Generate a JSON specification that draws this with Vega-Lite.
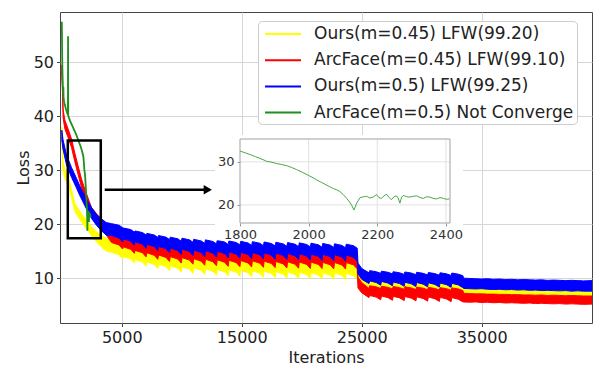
{
  "$schema": "https://vega.github.io/schema/vega-lite/v6.json",
  "width": 532,
  "height": 311,
  "autosize": {"type": "none"},
  "padding": {"left": 60, "top": 12, "right": 16, "bottom": 56},
  "background": "white",
  "config": {
    "font": "DejaVu Sans",
    "view": {"stroke": "#444", "strokeWidth": 1},
    "axis": {"labelColor": "#222", "titleColor": "#222", "tickColor": "#444", "labelFont": "DejaVu Sans", "titleFont": "DejaVu Sans", "labelFlush": false, "titleFontWeight": "normal"}
  },
  "datasets": {
    "yel": [
      {"it":0,"lo":36.0,"hi":38.0},{"it":100,"lo":30.0,"hi":31.5},{"it":300,"lo":28.3,"hi":29.8},{"it":667,"lo":26.2,"hi":27.7},{"it":1083,"lo":22.4,"hi":23.9},{"it":1400,"lo":21.2,"hi":22.7},{"it":1775,"lo":20.0,"hi":21.5},{"it":2200,"lo":18.7,"hi":20.3},{"it":2608,"lo":17.5,"hi":19.2},{"it":3200,"lo":16.0,"hi":18.0},{"it":3725,"lo":15.0,"hi":17.3},
      {"it":4152,"lo":14.8,"hi":17.1},{"it":4772,"lo":14.35,"hi":16.8},{"it":5070,"lo":13.6,"hi":16.35},
      {"it":5130,"lo":14.0,"hi":16.3},{"it":5750,"lo":13.55,"hi":16.0},{"it":6048,"lo":12.8,"hi":15.55},
      {"it":6108,"lo":13.45,"hi":15.75},{"it":6728,"lo":13.0,"hi":15.45},{"it":7026,"lo":12.25,"hi":15.0},
      {"it":7086,"lo":13.0,"hi":15.3},{"it":7706,"lo":12.55,"hi":15.0},{"it":8004,"lo":11.8,"hi":14.55},
      {"it":8064,"lo":12.6,"hi":14.9},{"it":8684,"lo":12.15,"hi":14.6},{"it":8982,"lo":11.4,"hi":14.15},
      {"it":9042,"lo":12.3,"hi":14.6},{"it":9662,"lo":11.85,"hi":14.3},{"it":9960,"lo":11.1,"hi":13.85},
      {"it":10020,"lo":12.1,"hi":14.4},{"it":10640,"lo":11.65,"hi":14.1},{"it":10938,"lo":10.9,"hi":13.65},
      {"it":10998,"lo":11.9,"hi":14.2},{"it":11618,"lo":11.45,"hi":13.9},{"it":11916,"lo":10.7,"hi":13.45},
      {"it":11976,"lo":11.75,"hi":14.05},{"it":12596,"lo":11.3,"hi":13.75},{"it":12894,"lo":10.55,"hi":13.3},
      {"it":12954,"lo":11.63,"hi":13.93},{"it":13574,"lo":11.18,"hi":13.63},{"it":13872,"lo":10.43,"hi":13.18},
      {"it":13932,"lo":11.54,"hi":13.84},{"it":14552,"lo":11.09,"hi":13.54},{"it":14850,"lo":10.34,"hi":13.09},
      {"it":14910,"lo":11.47,"hi":13.77},{"it":15530,"lo":11.02,"hi":13.47},{"it":15828,"lo":10.27,"hi":13.02},
      {"it":15888,"lo":11.38,"hi":13.68},{"it":16508,"lo":10.93,"hi":13.38},{"it":16806,"lo":10.18,"hi":12.93},
      {"it":16866,"lo":11.32,"hi":13.62},{"it":17486,"lo":10.87,"hi":13.32},{"it":17784,"lo":10.12,"hi":12.87},
      {"it":17844,"lo":11.2,"hi":13.5},{"it":18464,"lo":10.75,"hi":13.2},{"it":18762,"lo":10.0,"hi":12.75},
      {"it":18822,"lo":11.15,"hi":13.45},{"it":19442,"lo":10.7,"hi":13.15},{"it":19740,"lo":9.95,"hi":12.7},
      {"it":19800,"lo":11.1,"hi":13.4},{"it":20420,"lo":10.65,"hi":13.1},{"it":20718,"lo":9.9,"hi":12.65},
      {"it":20778,"lo":11.04,"hi":13.34},{"it":21398,"lo":10.59,"hi":13.04},{"it":21696,"lo":9.84,"hi":12.59},
      {"it":21756,"lo":11.0,"hi":13.3},{"it":22376,"lo":10.55,"hi":13.0},{"it":22674,"lo":9.8,"hi":12.55},
      {"it":22734,"lo":10.98,"hi":13.28},{"it":23354,"lo":10.53,"hi":12.98},{"it":23652,"lo":9.78,"hi":12.53},
      {"it":23712,"lo":10.9,"hi":13.2},{"it":24332,"lo":10.45,"hi":12.9},{"it":24630,"lo":9.7,"hi":12.45},
      {"it":24690,"lo":9.2,"hi":11.5},{"it":25000,"lo":8.4,"hi":10.6},{"it":25608,"lo":7.7,"hi":9.9},
      {"it":25668,"lo":7.9,"hi":10.1},{"it":26208,"lo":7.6,"hi":9.9},{"it":26586,"lo":7.1,"hi":9.6},
      {"it":26646,"lo":7.8,"hi":10.0},{"it":27186,"lo":7.5,"hi":9.8},{"it":27564,"lo":7.0,"hi":9.5},
      {"it":27624,"lo":7.75,"hi":9.95},{"it":28164,"lo":7.45,"hi":9.75},{"it":28542,"lo":6.95,"hi":9.45},
      {"it":28602,"lo":7.7,"hi":9.9},{"it":29142,"lo":7.4,"hi":9.7},{"it":29520,"lo":6.9,"hi":9.4},
      {"it":29580,"lo":7.65,"hi":9.85},{"it":30120,"lo":7.35,"hi":9.65},{"it":30498,"lo":6.85,"hi":9.35},
      {"it":30558,"lo":7.6,"hi":9.8},{"it":31098,"lo":7.3,"hi":9.6},{"it":31476,"lo":6.8,"hi":9.3},
      {"it":31536,"lo":7.55,"hi":9.75},{"it":32076,"lo":7.25,"hi":9.55},{"it":32454,"lo":6.75,"hi":9.25},
      {"it":32514,"lo":7.5,"hi":9.7},{"it":33054,"lo":7.2,"hi":9.5},{"it":33440,"lo":6.7,"hi":9.2},
      {"it":33500,"lo":6.6,"hi":8.6},{"it":34000,"lo":6.55,"hi":8.55},{"it":34500,"lo":6.5,"hi":8.5},{"it":35000,"lo":6.5,"hi":8.55},{"it":35500,"lo":6.45,"hi":8.45},{"it":36000,"lo":6.45,"hi":8.4},{"it":36500,"lo":6.4,"hi":8.45},{"it":37000,"lo":6.4,"hi":8.35},{"it":37500,"lo":6.35,"hi":8.4},{"it":38000,"lo":6.35,"hi":8.3},{"it":38500,"lo":6.3,"hi":8.35},{"it":39000,"lo":6.3,"hi":8.25},{"it":39500,"lo":6.25,"hi":8.3},{"it":40000,"lo":6.3,"hi":8.2},{"it":40500,"lo":6.2,"hi":8.25},{"it":41000,"lo":6.25,"hi":8.2},{"it":41500,"lo":6.2,"hi":8.15},{"it":42000,"lo":6.15,"hi":8.2},{"it":42500,"lo":6.2,"hi":8.1},{"it":43000,"lo":6.1,"hi":8.15},{"it":43500,"lo":6.1,"hi":8.1},{"it":44200,"lo":6.1,"hi":8.1}
    ],
    "red": [
      {"it":0,"lo":47.5,"hi":49.5},{"it":60,"lo":44.2,"hi":45.8},{"it":108,"lo":39.7,"hi":41.3},{"it":250,"lo":37.7,"hi":39.3},{"it":500,"lo":36.2,"hi":37.8},{"it":808,"lo":34.2,"hi":35.8},{"it":1083,"lo":31.6,"hi":33.2},{"it":1360,"lo":29.2,"hi":30.8},{"it":1640,"lo":26.8,"hi":28.4},{"it":1917,"lo":24.9,"hi":26.5},{"it":2475,"lo":21.3,"hi":23.1},{"it":3167,"lo":19.2,"hi":21.2},{"it":3700,"lo":18.0,"hi":20.2},
      {"it":4152,"lo":16.6,"hi":18.7},{"it":4772,"lo":16.15,"hi":18.4},{"it":5070,"lo":15.4,"hi":17.95},
      {"it":5130,"lo":15.8,"hi":17.9},{"it":5750,"lo":15.35,"hi":17.6},{"it":6048,"lo":14.6,"hi":17.15},
      {"it":6108,"lo":15.15,"hi":17.25},{"it":6728,"lo":14.7,"hi":16.95},{"it":7026,"lo":13.95,"hi":16.5},
      {"it":7086,"lo":14.7,"hi":16.8},{"it":7706,"lo":14.25,"hi":16.5},{"it":8004,"lo":13.5,"hi":16.05},
      {"it":8064,"lo":14.3,"hi":16.4},{"it":8684,"lo":13.85,"hi":16.1},{"it":8982,"lo":13.1,"hi":15.65},
      {"it":9042,"lo":14.0,"hi":16.1},{"it":9662,"lo":13.55,"hi":15.8},{"it":9960,"lo":12.8,"hi":15.35},
      {"it":10020,"lo":13.8,"hi":15.9},{"it":10640,"lo":13.35,"hi":15.6},{"it":10938,"lo":12.6,"hi":15.15},
      {"it":10998,"lo":13.6,"hi":15.7},{"it":11618,"lo":13.15,"hi":15.4},{"it":11916,"lo":12.4,"hi":14.95},
      {"it":11976,"lo":13.5,"hi":15.6},{"it":12596,"lo":13.05,"hi":15.3},{"it":12894,"lo":12.3,"hi":14.85},
      {"it":12954,"lo":13.4,"hi":15.5},{"it":13574,"lo":12.95,"hi":15.2},{"it":13872,"lo":12.2,"hi":14.75},
      {"it":13932,"lo":13.33,"hi":15.43},{"it":14552,"lo":12.88,"hi":15.13},{"it":14850,"lo":12.13,"hi":14.68},
      {"it":14910,"lo":13.27,"hi":15.37},{"it":15530,"lo":12.82,"hi":15.07},{"it":15828,"lo":12.07,"hi":14.62},
      {"it":15888,"lo":13.22,"hi":15.32},{"it":16508,"lo":12.77,"hi":15.02},{"it":16806,"lo":12.02,"hi":14.57},
      {"it":16866,"lo":13.16,"hi":15.26},{"it":17486,"lo":12.71,"hi":14.96},{"it":17784,"lo":11.96,"hi":14.51},
      {"it":17844,"lo":13.1,"hi":15.2},{"it":18464,"lo":12.65,"hi":14.9},{"it":18762,"lo":11.9,"hi":14.45},
      {"it":18822,"lo":13.05,"hi":15.15},{"it":19442,"lo":12.6,"hi":14.85},{"it":19740,"lo":11.85,"hi":14.4},
      {"it":19800,"lo":13.0,"hi":15.1},{"it":20420,"lo":12.55,"hi":14.8},{"it":20718,"lo":11.8,"hi":14.35},
      {"it":20778,"lo":12.98,"hi":15.08},{"it":21398,"lo":12.53,"hi":14.78},{"it":21696,"lo":11.78,"hi":14.33},
      {"it":21756,"lo":12.93,"hi":15.03},{"it":22376,"lo":12.48,"hi":14.73},{"it":22674,"lo":11.73,"hi":14.28},
      {"it":22734,"lo":12.9,"hi":15.0},{"it":23354,"lo":12.45,"hi":14.7},{"it":23652,"lo":11.7,"hi":14.25},
      {"it":23712,"lo":12.9,"hi":15.0},{"it":24332,"lo":12.45,"hi":14.7},{"it":24630,"lo":11.7,"hi":14.25},
      {"it":24690,"lo":8.2,"hi":10.2},{"it":25000,"lo":7.3,"hi":9.2},{"it":25608,"lo":6.4,"hi":8.1},
      {"it":25668,"lo":6.8,"hi":8.6},{"it":26208,"lo":6.5,"hi":8.4},{"it":26586,"lo":6.0,"hi":8.1},
      {"it":26646,"lo":6.7,"hi":8.5},{"it":27186,"lo":6.4,"hi":8.3},{"it":27564,"lo":5.9,"hi":8.0},
      {"it":27624,"lo":6.65,"hi":8.45},{"it":28164,"lo":6.35,"hi":8.25},{"it":28542,"lo":5.85,"hi":7.95},
      {"it":28602,"lo":6.6,"hi":8.4},{"it":29142,"lo":6.3,"hi":8.2},{"it":29520,"lo":5.8,"hi":7.9},
      {"it":29580,"lo":6.55,"hi":8.35},{"it":30120,"lo":6.25,"hi":8.15},{"it":30498,"lo":5.75,"hi":7.85},
      {"it":30558,"lo":6.5,"hi":8.3},{"it":31098,"lo":6.2,"hi":8.1},{"it":31476,"lo":5.7,"hi":7.8},
      {"it":31536,"lo":6.45,"hi":8.25},{"it":32076,"lo":6.15,"hi":8.05},{"it":32454,"lo":5.65,"hi":7.75},
      {"it":32514,"lo":6.4,"hi":8.2},{"it":33054,"lo":6.1,"hi":8.0},{"it":33440,"lo":5.6,"hi":7.7},
      {"it":33500,"lo":5.6,"hi":7.2},{"it":34000,"lo":5.55,"hi":7.15},{"it":34500,"lo":5.6,"hi":7.1},{"it":35000,"lo":5.5,"hi":7.1},{"it":35500,"lo":5.55,"hi":7.05},{"it":36000,"lo":5.45,"hi":7.05},{"it":36500,"lo":5.5,"hi":7.0},{"it":37000,"lo":5.4,"hi":7.0},{"it":37500,"lo":5.45,"hi":6.95},{"it":38000,"lo":5.4,"hi":6.95},{"it":38500,"lo":5.35,"hi":6.9},{"it":39000,"lo":5.4,"hi":6.9},{"it":39500,"lo":5.3,"hi":6.85},{"it":40000,"lo":5.35,"hi":6.9},{"it":40500,"lo":5.3,"hi":6.8},{"it":41000,"lo":5.25,"hi":6.85},{"it":41500,"lo":5.3,"hi":6.8},{"it":42000,"lo":5.2,"hi":6.75},{"it":42500,"lo":5.25,"hi":6.8},{"it":43000,"lo":5.2,"hi":6.75},{"it":43500,"lo":5.15,"hi":6.7},{"it":44200,"lo":5.2,"hi":6.7}
    ],
    "blu": [
      {"it":0,"lo":35.6,"hi":37.4},{"it":100,"lo":33.9,"hi":35.7},{"it":392,"lo":31.0,"hi":32.8},{"it":808,"lo":28.7,"hi":30.5},{"it":1225,"lo":26.7,"hi":28.5},{"it":1500,"lo":25.3,"hi":27.1},{"it":1775,"lo":24.1,"hi":25.9},{"it":2058,"lo":22.8,"hi":24.6},{"it":2500,"lo":21.0,"hi":23.0},{"it":2892,"lo":19.8,"hi":21.8},{"it":3300,"lo":18.8,"hi":21.0},{"it":3700,"lo":18.0,"hi":20.3},
      {"it":4152,"lo":17.9,"hi":20.1},{"it":4772,"lo":17.45,"hi":19.8},{"it":5070,"lo":16.7,"hi":19.35},
      {"it":5130,"lo":17.3,"hi":19.3},{"it":5750,"lo":16.85,"hi":19.0},{"it":6048,"lo":16.1,"hi":18.55},
      {"it":6108,"lo":16.75,"hi":18.75},{"it":6728,"lo":16.3,"hi":18.45},{"it":7026,"lo":15.55,"hi":18.0},
      {"it":7086,"lo":16.3,"hi":18.3},{"it":7706,"lo":15.85,"hi":18.0},{"it":8004,"lo":15.1,"hi":17.55},
      {"it":8064,"lo":15.9,"hi":17.9},{"it":8684,"lo":15.45,"hi":17.6},{"it":8982,"lo":14.7,"hi":17.15},
      {"it":9042,"lo":15.6,"hi":17.6},{"it":9662,"lo":15.15,"hi":17.3},{"it":9960,"lo":14.4,"hi":16.85},
      {"it":10020,"lo":15.4,"hi":17.4},{"it":10640,"lo":14.95,"hi":17.1},{"it":10938,"lo":14.2,"hi":16.65},
      {"it":10998,"lo":15.2,"hi":17.2},{"it":11618,"lo":14.75,"hi":16.9},{"it":11916,"lo":14.0,"hi":16.45},
      {"it":11976,"lo":15.1,"hi":17.1},{"it":12596,"lo":14.65,"hi":16.8},{"it":12894,"lo":13.9,"hi":16.35},
      {"it":12954,"lo":15.0,"hi":17.0},{"it":13574,"lo":14.55,"hi":16.7},{"it":13872,"lo":13.8,"hi":16.25},
      {"it":13932,"lo":14.9,"hi":16.9},{"it":14552,"lo":14.45,"hi":16.6},{"it":14850,"lo":13.7,"hi":16.15},
      {"it":14910,"lo":14.82,"hi":16.82},{"it":15530,"lo":14.37,"hi":16.52},{"it":15828,"lo":13.62,"hi":16.07},
      {"it":15888,"lo":14.77,"hi":16.77},{"it":16508,"lo":14.32,"hi":16.47},{"it":16806,"lo":13.57,"hi":16.02},
      {"it":16866,"lo":14.71,"hi":16.71},{"it":17486,"lo":14.26,"hi":16.41},{"it":17784,"lo":13.51,"hi":15.96},
      {"it":17844,"lo":14.65,"hi":16.65},{"it":18464,"lo":14.2,"hi":16.35},{"it":18762,"lo":13.45,"hi":15.9},
      {"it":18822,"lo":14.6,"hi":16.6},{"it":19442,"lo":14.15,"hi":16.3},{"it":19740,"lo":13.4,"hi":15.85},
      {"it":19800,"lo":14.54,"hi":16.54},{"it":20420,"lo":14.09,"hi":16.24},{"it":20718,"lo":13.34,"hi":15.79},
      {"it":20778,"lo":14.48,"hi":16.48},{"it":21398,"lo":14.03,"hi":16.18},{"it":21696,"lo":13.28,"hi":15.73},
      {"it":21756,"lo":14.43,"hi":16.43},{"it":22376,"lo":13.98,"hi":16.13},{"it":22674,"lo":13.23,"hi":15.68},
      {"it":22734,"lo":14.37,"hi":16.37},{"it":23354,"lo":13.92,"hi":16.07},{"it":23652,"lo":13.17,"hi":15.62},
      {"it":23712,"lo":14.3,"hi":16.3},{"it":24332,"lo":13.85,"hi":16.0},{"it":24630,"lo":13.1,"hi":15.55},
      {"it":24690,"lo":10.8,"hi":12.8},{"it":25000,"lo":9.8,"hi":11.8},{"it":25608,"lo":9.0,"hi":11.0},
      {"it":25668,"lo":9.5,"hi":11.4},{"it":26208,"lo":9.2,"hi":11.2},{"it":26586,"lo":8.7,"hi":10.9},
      {"it":26646,"lo":9.4,"hi":11.3},{"it":27186,"lo":9.1,"hi":11.1},{"it":27564,"lo":8.6,"hi":10.8},
      {"it":27624,"lo":9.3,"hi":11.2},{"it":28164,"lo":9.0,"hi":11.0},{"it":28542,"lo":8.5,"hi":10.7},
      {"it":28602,"lo":9.25,"hi":11.15},{"it":29142,"lo":8.95,"hi":10.95},{"it":29520,"lo":8.45,"hi":10.65},
      {"it":29580,"lo":9.2,"hi":11.1},{"it":30120,"lo":8.9,"hi":10.9},{"it":30498,"lo":8.4,"hi":10.6},
      {"it":30558,"lo":9.15,"hi":11.05},{"it":31098,"lo":8.85,"hi":10.85},{"it":31476,"lo":8.35,"hi":10.55},
      {"it":31536,"lo":9.1,"hi":11.0},{"it":32076,"lo":8.8,"hi":10.8},{"it":32454,"lo":8.3,"hi":10.5},
      {"it":32514,"lo":9.05,"hi":10.95},{"it":33054,"lo":8.75,"hi":10.75},{"it":33440,"lo":8.25,"hi":10.45},
      {"it":33500,"lo":8.1,"hi":10.0},{"it":34000,"lo":8.05,"hi":9.95},{"it":34500,"lo":8.0,"hi":9.9},{"it":35000,"lo":8.05,"hi":9.85},{"it":35500,"lo":7.95,"hi":9.9},{"it":36000,"lo":7.9,"hi":9.8},{"it":36500,"lo":7.95,"hi":9.85},{"it":37000,"lo":7.85,"hi":9.75},{"it":37500,"lo":7.9,"hi":9.8},{"it":38000,"lo":7.8,"hi":9.7},{"it":38500,"lo":7.85,"hi":9.75},{"it":39000,"lo":7.75,"hi":9.7},{"it":39500,"lo":7.8,"hi":9.65},{"it":40000,"lo":7.7,"hi":9.7},{"it":40500,"lo":7.75,"hi":9.6},{"it":41000,"lo":7.7,"hi":9.65},{"it":41500,"lo":7.65,"hi":9.6},{"it":42000,"lo":7.7,"hi":9.55},{"it":42500,"lo":7.6,"hi":9.6},{"it":43000,"lo":7.65,"hi":9.55},{"it":43500,"lo":7.6,"hi":9.5},{"it":44200,"lo":7.6,"hi":9.55}
    ],
    "grn": [
      {"it":0,"v":57.5},{"it":20,"v":53.5},{"it":40,"v":50.0},{"it":60,"v":47.8},{"it":80,"v":46.2},{"it":100,"v":44.8},{"it":115,"v":44.2},{"it":130,"v":45.4},{"it":145,"v":43.6},{"it":180,"v":42.8},{"it":240,"v":42.2},{"it":300,"v":41.7},{"it":360,"v":41.2},{"it":420,"v":40.8},{"it":480,"v":40.4},{"it":510,"v":40.3},{"it":522,"v":54.8},{"it":534,"v":40.1},{"it":600,"v":39.7},{"it":700,"v":39.1},{"it":800,"v":38.6},{"it":900,"v":38.1},{"it":1000,"v":37.6},{"it":1100,"v":37.1},{"it":1200,"v":36.6},{"it":1300,"v":36.0},{"it":1400,"v":35.4},{"it":1500,"v":34.8},{"it":1600,"v":34.2},{"it":1700,"v":33.4},
      {"it":1800,"v":32.5},{"it":1815,"v":32.1},{"it":1829,"v":31.7},{"it":1845,"v":31.2},{"it":1858,"v":30.8},{"it":1870,"v":30.4},{"it":1878,"v":30.1},{"it":1893,"v":29.9},{"it":1907,"v":29.6},{"it":1920,"v":29.4},{"it":1936,"v":29.1},{"it":1950,"v":28.7},{"it":1965,"v":28.2},{"it":1984,"v":27.5},{"it":2003,"v":26.7},{"it":2013,"v":26.3},{"it":2023,"v":25.8},{"it":2038,"v":25.2},{"it":2052,"v":24.6},{"it":2062,"v":24.2},{"it":2072,"v":23.8},{"it":2082,"v":23.5},{"it":2091,"v":23.1},{"it":2101,"v":22.4},{"it":2111,"v":21.5},{"it":2118,"v":20.8},{"it":2125,"v":20.0},{"it":2132,"v":18.8},{"it":2140,"v":20.4},{"it":2150,"v":21.7},{"it":2160,"v":21.9},{"it":2169,"v":22.0},{"it":2178,"v":21.6},{"it":2188,"v":21.8},{"it":2198,"v":22.4},{"it":2205,"v":21.7},{"it":2212,"v":21.5},{"it":2220,"v":22.1},{"it":2227,"v":22.5},{"it":2234,"v":21.8},{"it":2241,"v":21.2},{"it":2249,"v":21.9},{"it":2256,"v":22.1},{"it":2261,"v":21.6},{"it":2266,"v":20.4},{"it":2271,"v":21.8},{"it":2276,"v":22.2},{"it":2286,"v":21.9},{"it":2295,"v":21.8},{"it":2305,"v":22.0},{"it":2315,"v":22.1},{"it":2325,"v":21.7},{"it":2334,"v":21.5},{"it":2344,"v":21.9},{"it":2354,"v":21.8},{"it":2363,"v":21.5},{"it":2373,"v":21.4},{"it":2383,"v":21.7},{"it":2393,"v":21.5},{"it":2402,"v":21.3},{"it":2410,"v":21.4}
    ]
  },
  "layer": [
    {
      "layer": [
        {
          "data": {"name": "yel"},
          "mark": {"type": "area", "stroke": "#ffff00", "strokeWidth": 1, "clip": true},
          "encoding": {
            "x": {"field": "it", "type": "quantitative", "scale": {"domain": [-150, 44200], "nice": false, "zero": false},
                  "axis": {"values": [5000, 15000, 25000, 35000], "format": "d", "grid": true, "gridColor": "#d6d6d6", "domain": false, "tickSize": 3.5, "labelFontSize": 16, "labelPadding": 3, "title": "Iterations", "titleFontSize": 16, "titlePadding": 4}},
            "y": {"field": "lo", "type": "quantitative", "scale": {"domain": [1.7, 59.3], "nice": false, "zero": false},
                  "axis": {"values": [10, 20, 30, 40, 50], "grid": true, "gridColor": "#d6d6d6", "domain": false, "tickSize": 3.5, "labelFontSize": 16, "labelPadding": 3, "title": "Loss", "titleFontSize": 16, "titlePadding": 2}},
            "y2": {"field": "hi"},
            "color": {"datum": "Ours(m=0.45) LFW(99.20)", "type": "nominal",
              "scale": {"domain": ["Ours(m=0.45) LFW(99.20)", "ArcFace(m=0.45) LFW(99.10)", "Ours(m=0.5) LFW(99.25)", "ArcFace(m=0.5) Not Converge"], "range": ["#ffff00", "#ff0000", "#0000ff", "#1f8f1f"]},
              "legend": {"orient": "none", "legendX": 198, "legendY": 9, "title": null, "labelFont": "DejaVu Sans", "labelFontSize": 17, "labelColor": "#222", "labelLimit": 400, "symbolType": "M-0.667,0L3.333,0", "symbolSize": 324, "symbolStrokeWidth": 2, "labelOffset": 33, "rowPadding": 8.2, "padding": 3, "fillColor": "white", "strokeColor": "#cccccc", "cornerRadius": 4,
                "encode": {"symbols": {"update": {"stroke": {"scale": "color", "field": "value"}, "strokeWidth": {"value": 2}}}}}}
          }
        },
        {
          "data": {"name": "red"},
          "mark": {"type": "area", "stroke": "#ff0000", "strokeWidth": 1, "clip": true},
          "encoding": {
            "x": {"field": "it", "type": "quantitative"},
            "y": {"field": "lo", "type": "quantitative"},
            "y2": {"field": "hi"},
            "color": {"datum": "ArcFace(m=0.45) LFW(99.10)", "type": "nominal"}
          }
        },
        {
          "data": {"name": "blu"},
          "mark": {"type": "area", "stroke": "#0000ff", "strokeWidth": 1, "clip": true},
          "encoding": {
            "x": {"field": "it", "type": "quantitative"},
            "y": {"field": "lo", "type": "quantitative"},
            "y2": {"field": "hi"},
            "color": {"datum": "Ours(m=0.5) LFW(99.25)", "type": "nominal"}
          }
        },
        {
          "data": {"name": "grn"},
          "mark": {"type": "line", "strokeWidth": 1.8, "clip": true},
          "encoding": {
            "x": {"field": "it", "type": "quantitative"},
            "y": {"field": "v", "type": "quantitative"},
            "color": {"datum": "ArcFace(m=0.5) Not Converge", "type": "nominal"}
          }
        },
        {
          "data": {"values": [{"x1": 500, "x2": 3250, "y1": 17.4, "y2": 35.5}]},
          "mark": {"type": "rect", "filled": false, "color": "black", "strokeWidth": 2.5},
          "encoding": {
            "x": {"field": "x1", "type": "quantitative"},
            "x2": {"field": "x2"},
            "y": {"field": "y1", "type": "quantitative"},
            "y2": {"field": "y2"}
          }
        },
        {
          "data": {"values": [{"x1": 3580, "x2": 12100, "y": 26.4}]},
          "mark": {"type": "rule", "color": "black", "strokeWidth": 2.5},
          "encoding": {
            "x": {"field": "x1", "type": "quantitative"},
            "x2": {"field": "x2"},
            "y": {"field": "y", "type": "quantitative"}
          }
        },
        {
          "data": {"values": [{"x": 12170, "y": 26.4}]},
          "mark": {"type": "point", "shape": "triangle-right", "filled": true, "color": "black", "size": 90, "opacity": 1},
          "encoding": {
            "x": {"field": "x", "type": "quantitative"},
            "y": {"field": "y", "type": "quantitative"}
          }
        }
      ]
    },
    {
      "layer": [
        {
          "data": {"values": [{"x1": 1727, "x2": 2450, "y1": 11.8, "y2": 36.2}]},
          "mark": {"type": "rect", "fill": "white"},
          "encoding": {
            "x": {"field": "x1", "type": "quantitative", "scale": {"domain": [1800, 2412], "range": [180, 390], "nice": false, "zero": false},
                  "axis": {"orient": "bottom", "offset": -100, "values": [1800, 2000, 2200, 2400], "format": "d", "grid": false, "domain": false, "tickSize": 3, "tickColor": "#999", "labelFontSize": 13, "labelColor": "#333", "labelPadding": 2, "title": null, "zindex": 2}},
            "x2": {"field": "x2"},
            "y": {"field": "y1", "type": "quantitative", "scale": {"domain": [15.8, 35.3], "range": [211, 127], "nice": false, "zero": false},
                  "axis": {"orient": "left", "offset": -180, "values": [20, 30], "grid": false, "domain": false, "tickSize": 3, "tickColor": "#999", "labelFontSize": 13, "labelColor": "#333", "labelPadding": 3, "title": null, "zindex": 2}},
            "y2": {"field": "y2"}
          }
        },
        {
          "data": {"values": [{"g": 2000}, {"g": 2200}, {"g": 2400}]},
          "mark": {"type": "rule", "color": "#e2e2e2", "strokeWidth": 1},
          "encoding": {
            "x": {"field": "g", "type": "quantitative"},
            "y": {"datum": 15.8, "type": "quantitative"},
            "y2": {"datum": 35.3}
          }
        },
        {
          "data": {"values": [{"g": 20}, {"g": 30}]},
          "mark": {"type": "rule", "color": "#e2e2e2", "strokeWidth": 1},
          "encoding": {
            "y": {"field": "g", "type": "quantitative"},
            "x": {"datum": 1800, "type": "quantitative"},
            "x2": {"datum": 2412}
          }
        },
        {
          "data": {"values": [{"x1": 1800, "x2": 2412, "y1": 15.8, "y2": 35.3}]},
          "mark": {"type": "rect", "filled": false, "color": "#a0a0a0", "strokeWidth": 1},
          "encoding": {
            "x": {"field": "x1", "type": "quantitative"},
            "x2": {"field": "x2"},
            "y": {"field": "y1", "type": "quantitative"},
            "y2": {"field": "y2"}
          }
        },
        {
          "data": {"name": "grn"},
          "transform": [{"filter": "datum.it >= 1800"}],
          "mark": {"type": "line", "strokeWidth": 1, "color": "#4aa84a"},
          "encoding": {
            "x": {"field": "it", "type": "quantitative"},
            "y": {"field": "v", "type": "quantitative"}
          }
        }
      ]
    }
  ],
  "resolve": {"scale": {"x": "independent", "y": "independent"}, "axis": {"x": "independent", "y": "independent"}}
}
